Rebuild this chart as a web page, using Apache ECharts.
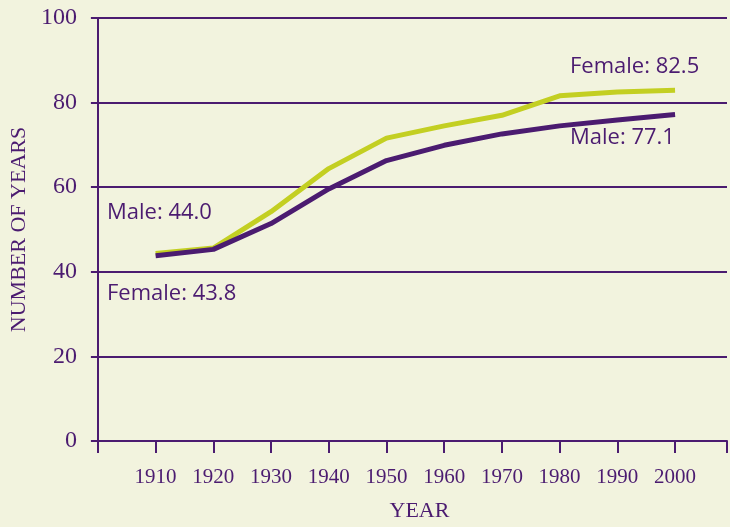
<!DOCTYPE html>
<html>
<head>
<meta charset="utf-8">
<script src="https://cdn.jsdelivr.net/npm/echarts@6/dist/echarts.min.js"></script>
<style>
  html, body { margin: 0; padding: 0; background: #f2f3de; overflow: hidden; }
  #chart { width: 730px; height: 527px; }
</style>
</head>
<body>
<div id="chart"></div>
<script>
    // life expectancy at birth
    const years = [1910, 1920, 1930, 1940, 1950, 1960, 1970, 1980, 1990, 2000];
    const female = [44.3, 45.6, 54.2, 64.4, 71.6, 74.5, 77.0, 81.6, 82.5, 82.9];
    const male = [43.8, 45.3, 51.4, 59.6, 66.3, 69.9, 72.6, 74.5, 75.9, 77.2];
    const yTicks = [0, 20, 40, 60, 80, 100];

    const purple = '#4b1b70';
    const green = '#c3cf22';
    const serif = '"Liberation Serif", "DejaVu Serif", serif';
    const sans = '"Open Sans", "Noto Sans", sans-serif';

    const pairs = (xs, ys) => xs.map((x, i) => [x, ys[i]]);

    const chart = echarts.init(document.getElementById('chart'));

    const note = (text, x, y) => ({
        type: 'text',
        left: x,
        top: y,
        style: {text: text, fill: purple, font: '22px ' + sans}
    });

    chart.setOption({
        backgroundColor: '#f2f3de',
        animation: false,
        grid: {left: 94, right: 0, top: 18, bottom: 82},
        xAxis: {
            type: 'value',
            min: 1900,
            max: 2009,
            interval: 10,
            name: 'YEAR',
            nameLocation: 'middle',
            nameGap: 59,
            nameTextStyle: {color: purple, fontFamily: serif, fontSize: 22, padding: [0, 0, 0, 14]},
            axisLine: {lineStyle: {color: purple, width: 2}},
            axisTick: {length: 12, lineStyle: {color: purple, width: 2}},
            axisLabel: {
                color: purple,
                fontFamily: serif,
                fontSize: 21,
                margin: 26,
                formatter: v => (years.indexOf(v) >= 0 ? String(v) : '')
            },
            splitLine: {show: false}
        },
        yAxis: {
            type: 'value',
            min: yTicks[0],
            max: yTicks[yTicks.length - 1],
            interval: 20,
            name: 'NUMBER OF YEARS',
            nameLocation: 'middle',
            nameGap: 60,
            nameTextStyle: {color: purple, fontFamily: serif, fontSize: 22},
            axisLine: {show: true, lineStyle: {color: purple, width: 2}},
            axisTick: {show: true, length: 7, lineStyle: {color: purple, width: 2}},
            axisLabel: {color: purple, fontFamily: serif, fontSize: 24, margin: 21},
            splitLine: {show: true, lineStyle: {color: purple, width: 2}}
        },
        graphic: [
            note('Female: 82.5', 570, 56),
            note('Male: 77.1', 570, 127),
            note('Male: 44.0', 107, 202),
            note('Female: 43.8', 107, 283)
        ],
        series: [
            {
                name: 'Female',
                type: 'line',
                data: pairs(years, female),
                showSymbol: false,
                lineStyle: {color: green, width: 5},
                z: 3
            },
            {
                name: 'Male',
                type: 'line',
                data: pairs(years, male),
                showSymbol: false,
                lineStyle: {color: purple, width: 5},
                z: 4
            }
        ]
    });
</script>
</body>
</html>
